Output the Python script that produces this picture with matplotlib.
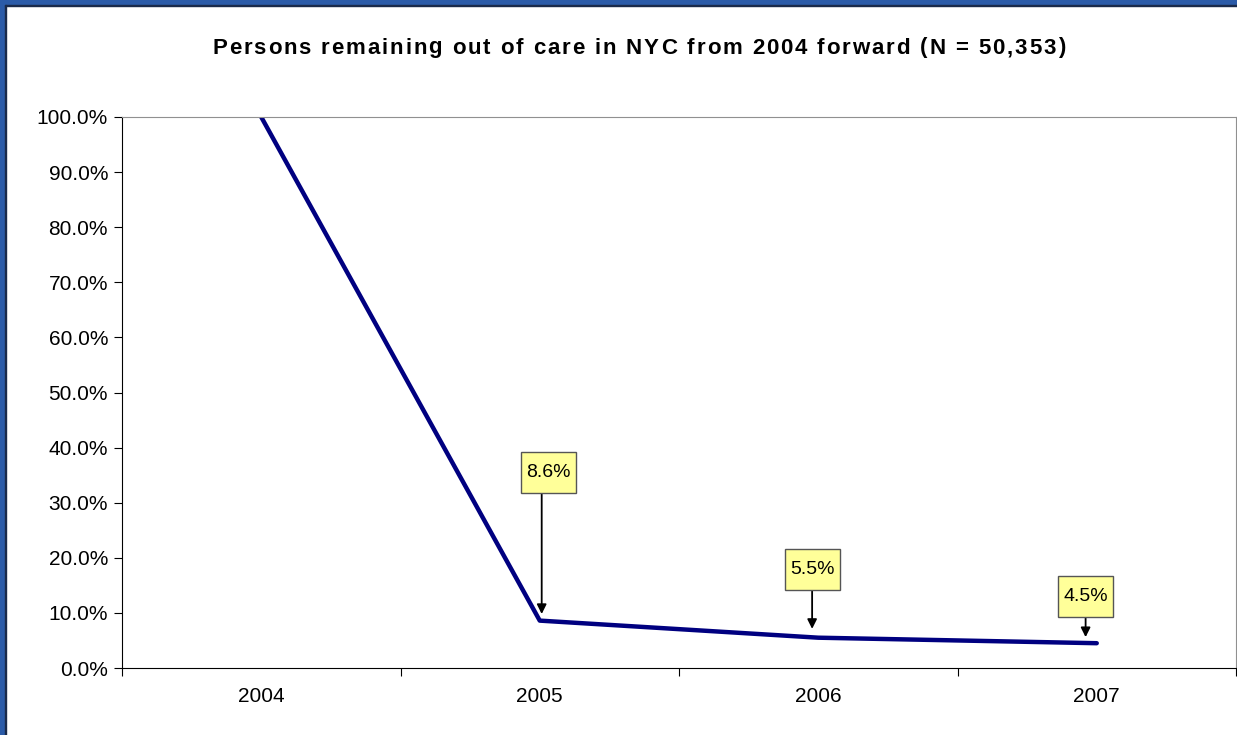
import matplotlib
matplotlib.use('Agg')
import matplotlib.pyplot as plt
from matplotlib.ticker import PercentFormatter, FixedLocator, NullFormatter
from matplotlib.patches import Rectangle
from matplotlib.transforms import ScaledTranslation

years = ['2004', '2005', '2006', '2007']
remaining = [100.0, 8.6, 5.5, 4.5]
callout_labels = ['8.6%', '5.5%', '4.5%']
title = 'Persons remaining out of care in NYC from 2004 forward (N = 50,353)'

plt.rcParams['font.family'] = ['Liberation Sans', 'DejaVu Sans']

W, H = 1237, 735
fig = plt.figure(figsize=(W / 100, H / 100), dpi=100)
ax = fig.add_axes([122 / W, 1 - 668 / H, (1236 - 122) / W, (668 - 117) / H])

xs = [i + 0.5 for i in range(len(years))]
ax.plot(xs, remaining, color='#000080', lw=3.2, solid_capstyle='round')

ax.set_xlim(0, len(years))
ax.set_ylim(0, 100)
ax.yaxis.set_major_locator(FixedLocator(range(0, 101, 10)))
ax.yaxis.set_major_formatter(PercentFormatter(decimals=1))

# categories centred between the tick marks
ax.xaxis.set_major_locator(FixedLocator(range(len(years) + 1)))
ax.xaxis.set_major_formatter(NullFormatter())
ax.xaxis.set_minor_locator(FixedLocator(xs))
ax.set_xticklabels(years, minor=True)
ax.tick_params(axis='x', which='minor', length=0, pad=14, labelsize=15)
ax.tick_params(axis='x', which='major', length=6, direction='out', color='black')
ax.tick_params(axis='y', length=6, direction='out', labelsize=15, pad=4)

for s in ['top', 'right']:
    ax.spines[s].set_color('#909090')
for s in ['left', 'bottom']:
    ax.spines[s].set_color('black')

# callouts: (arrow x offset from point, box centre dx, box centre y, arrow tip y)
callout_pos = [(0.007, 0.023, 35.4, 9.8), (-0.022, 0.0, 17.9, 7.1), (-0.04, 0.0, 12.9, 5.6)]
box_w, box_h = 0.55, 0.41  # inches
for i, lab in enumerate(callout_labels):
    adx, bdx, by, tip = callout_pos[i]
    ax_x = xs[i + 1] + adx
    bx = ax_x + bdx
    tr = fig.dpi_scale_trans + ScaledTranslation(bx, by, ax.transData)
    ax.add_patch(Rectangle((-box_w / 2, -box_h / 2), box_w, box_h, transform=tr,
                           fc='#FFFF99', ec='#555555', lw=1, zorder=4))
    ax.text(bx, by, lab, ha='center', va='center', fontsize=14, zorder=5)
    bottom = by - (box_h * 100 / 2) / 551 * 100
    ax.annotate('', xy=(ax_x, tip), xytext=(ax_x, bottom),
                arrowprops=dict(arrowstyle='-|>', color='black', lw=1.3,
                                mutation_scale=14, shrinkA=0, shrinkB=0))

# title with a little extra letter spacing
tsize = 16
fig.canvas.draw()
renderer = fig.canvas.get_renderer()
tx0, tx1, ty = 212, 1065, H - 48


def text_w(s):
    t = fig.text(0, 0, s, fontsize=tsize, fontweight='bold')
    w = t.get_window_extent(renderer).width
    t.remove()
    return w


widths = []
for ch in title:
    if ch == ' ':
        widths.append(text_w('a a') - text_w('aa'))
    else:
        widths.append(text_w(ch))
extra = ((tx1 - tx0) - sum(widths)) / (len(title) - 1)
x = tx0
for ch, w in zip(title, widths):
    fig.text(x / W, ty / H, ch, fontsize=tsize, fontweight='bold', ha='left', va='center')
    x += w + extra

# blue frame on the left and top edges
fig.patches.append(Rectangle((0, 0), 5 / W, 1, transform=fig.transFigure,
                             color='#2B5BA8', zorder=5))
fig.patches.append(Rectangle((0, 1 - 5 / H), 1, 5 / H, transform=fig.transFigure,
                             color='#2B5BA8', zorder=5))
fig.patches.append(Rectangle((5 / W, 0), 1.2 / W, 1 - 5 / H, transform=fig.transFigure,
                             color='#1a2a4a', zorder=5))
fig.patches.append(Rectangle((5 / W, 1 - 6.2 / H), 1, 1.2 / H, transform=fig.transFigure,
                             color='#1a2a4a', zorder=5))

fig.savefig('out.png', dpi=100)
